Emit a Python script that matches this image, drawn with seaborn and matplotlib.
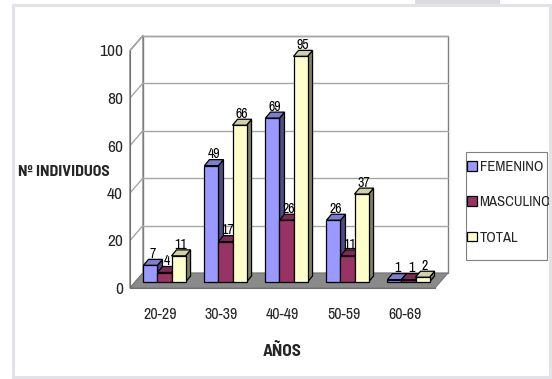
import numpy as np
import pandas as pd
import seaborn as sns
import matplotlib.pyplot as plt
from matplotlib.patches import Polygon, Rectangle, Patch, FancyBboxPatch
from matplotlib.colors import to_rgb

grupos = ['20-29', '30-39', '40-49', '50-59', '60-69']
femenino = [7, 49, 69, 26, 1]
masculino = [4, 17, 26, 11, 1]
total = [11, 66, 95, 37, 2]
series = ['FEMENINO', 'MASCULINO', 'TOTAL']
colores = ['#9999FF', '#993366', '#FFFFCC']

df = pd.DataFrame({
    'grupo': grupos * 3,
    'sexo': [s for s in series for _ in grupos],
    'n': femenino + masculino + total,
})

sns.set_style('white')
plt.rcParams['font.family'] = ['Archivo Narrow', 'Liberation Sans', 'DejaVu Sans']
bold_font = ['Barlow Semi Condensed', 'Liberation Sans', 'DejaVu Sans']

W, H = 552, 379
fig = plt.figure(figsize=(W / 100, H / 100), dpi=100)
# front plane of the 3D box
ax = fig.add_axes([130 / W, (H - 288) / H, 305 / W, 237.5 / H])
sns.barplot(data=df, x='grupo', y='n', hue='sexo', order=grupos, hue_order=series,
            palette=colores, saturation=1, width=0.69, errorbar=None,
            edgecolor='black', linewidth=0.9, legend=False, ax=ax)
bars = sorted(list(ax.patches), key=lambda p: p.get_x())
ax.set_xlim(-0.5, 4.5)
ax.set_ylim(0, 100)
ax.patch.set_visible(False)

# pixel offsets -> data units
ux = 305 / 5
uy = 237.5 / 100
def off(dx, dy):
    return dx / ux, dy / uy

bx, by = off(4, 6)     # bar front plane
ddx, ddy = off(5, 6)   # bar depth
wx, wy = off(13, 15)   # back wall

# walls and floor
ax.add_patch(Polygon([(-0.5 + wx, wy), (4.5 + wx, wy), (4.5 + wx, 100 + wy), (-0.5 + wx, 100 + wy)],
                     closed=True, facecolor='white', edgecolor='#7f7f7f', lw=1, zorder=0.5, clip_on=False))
ax.add_patch(Polygon([(-0.5, 0), (-0.5 + wx, wy), (-0.5 + wx, 100 + wy), (-0.5, 100)],
                     closed=True, facecolor='white', edgecolor='#7f7f7f', lw=1, zorder=0.5, clip_on=False))
for v in range(20, 101, 20):
    ax.plot([-0.5 + wx, 4.5 + wx], [v + wy, v + wy], color='#a6a6a6', lw=1, zorder=0.6, clip_on=False)
    ax.plot([-0.5, -0.5 + wx], [v, v + wy], color='#a6a6a6', lw=1, zorder=0.6, clip_on=False)
ax.add_patch(Polygon([(-0.5, 0), (4.5, 0), (4.5 + wx, wy), (-0.5 + wx, wy)],
                     closed=True, facecolor='#8a8a8a', edgecolor='#777777', lw=0.8, zorder=0.7, clip_on=False))

def shade(c, f):
    r, g, b = to_rgb(c)
    return (r * f, g * f, b * f)

for k, p in enumerate(bars):
    x0 = p.get_x() + bx
    w = p.get_width()
    h = p.get_height()
    y0 = by
    c = p.get_facecolor()
    p.set_x(x0)
    p.set_y(y0)
    p.set_zorder(3 + 2 * k + 1)
    p.set_clip_on(False)
    ax.add_patch(Polygon([(x0 + w, y0), (x0 + w + ddx, y0 + ddy), (x0 + w + ddx, y0 + h + ddy), (x0 + w, y0 + h)],
                         closed=True, facecolor=shade(c, 0.5), edgecolor='black', lw=0.9,
                         zorder=3 + 2 * k, clip_on=False))
    ax.add_patch(Polygon([(x0, y0 + h), (x0 + w, y0 + h), (x0 + w + ddx, y0 + h + ddy), (x0 + ddx, y0 + h + ddy)],
                         closed=True, facecolor=shade(c, 0.82), edgecolor='black', lw=0.9,
                         zorder=3 + 2 * k, clip_on=False))
    ax.text(x0 + w / 2 + ddx / 2, y0 + h + ddy * 0.7, f'{h:.0f}', ha='center', va='bottom',
            fontsize=10, color='black', zorder=40)

# axes styling
for s in ['top', 'right']:
    ax.spines[s].set_visible(False)
ax.spines['left'].set_color('#6f6f6f')
ax.spines['bottom'].set_color('#6f6f6f')
ax.set_yticks(range(0, 101, 20))
ax.tick_params(axis='y', length=4, color='#6f6f6f', labelsize=12.5, pad=1)
ax.set_xticks(range(5))
ax.set_xticklabels(grupos)
ax.set_xticks(np.arange(-0.5, 5, 1), minor=True)
ax.tick_params(axis='x', which='major', length=0, labelsize=11.5, pad=14)
ax.tick_params(axis='x', which='minor', length=5, color='#6f6f6f')
ax.set_xlabel('')
ax.set_ylabel('')

fig.text(64 / W, 1 - 172 / H, 'Nº INDIVIDUOS', ha='center', va='center', fontsize=11.5,
         fontweight='bold', family=bold_font)
fig.text(282 / W, 1 - 351 / H, 'AÑOS', ha='center', va='center', fontsize=12.5,
         fontweight='bold', family=bold_font)

# legend
handles = [Patch(facecolor=c, edgecolor='black', lw=0.9) for c in colores]
fig.legend(handles, series, loc='upper left', bbox_to_anchor=(467 / W, 1 - 160 / H), frameon=False,
           fontsize=10.6, handlelength=0.65, handleheight=0.65, handletextpad=0.2,
           labelspacing=1.45, borderpad=0, borderaxespad=0)
fig.add_artist(Rectangle((466 / W, 1 - 260 / H), (547 - 466) / W, (260 - 152) / H,
                         transform=fig.transFigure, fill=False, edgecolor='#808080', lw=0.8))

# outer frame and page tab at the top
fig.add_artist(FancyBboxPatch((415 / W, 1 - 4 / H), 85 / W, 6 / H, boxstyle='round,pad=0',
                              transform=fig.transFigure, facecolor='#dcdce0', edgecolor='none', zorder=49))
fig.add_artist(Rectangle((12.5 / W, 2.5 / H), (549.5 - 12.5) / W, (376.5 - 4.5) / H,
                         transform=fig.transFigure, fill=False, edgecolor='#e2e2e8', lw=2.2, zorder=50))

fig.savefig('out.png', dpi=100, facecolor='white')
